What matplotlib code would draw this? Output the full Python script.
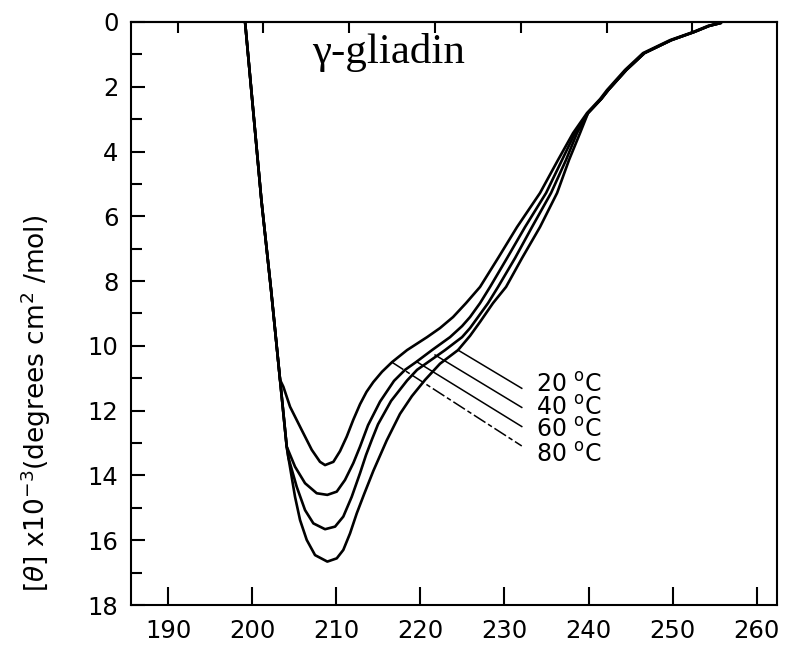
import matplotlib
matplotlib.use('Agg')
import matplotlib.pyplot as plt
from matplotlib.ticker import MultipleLocator

# ---- data (wavelength in nm, -[theta] x 10^-3) ----
wl_20 = [199.16, 201.10, 202.25, 203.32, 203.71, 204.51, 205.90, 207.09, 208.07,
         208.67, 209.66, 210.45, 211.25, 212.03, 212.83, 213.60, 214.40, 215.44,
         216.64, 218.42, 220.80, 222.34, 223.89, 225.43, 227.10, 229.24, 231.50,
         234.23, 236.37, 238.16, 239.82, 241.37, 242.20, 244.34, 246.48, 249.69,
         252.43, 254.21, 255.63]
th_20 = [0.00, 5.50, 8.27, 11.05, 11.26, 11.88, 12.60, 13.21, 13.58,
         13.68, 13.58, 13.25, 12.80, 12.28, 11.80, 11.42, 11.12, 10.80,
         10.50, 10.13, 9.73, 9.45, 9.11, 8.68, 8.18, 7.29, 6.33,
         5.28, 4.26, 3.43, 2.81, 2.38, 2.10, 1.48, 0.96, 0.56,
         0.31, 0.12, 0.03]

wl_40 = [199.16, 201.10, 202.25, 203.32, 204.11, 205.10, 206.29, 207.68, 208.94,
         210.06, 211.04, 212.03, 212.83, 213.78, 215.21, 216.87, 218.18, 219.49,
         221.39, 223.53, 224.96, 225.91, 227.10, 228.29, 230.31, 232.45, 234.95,
         236.85, 238.39, 239.94, 241.50, 242.35, 244.50, 246.65, 249.85, 252.55,
         254.35, 255.75]
th_40 = [0.00, 5.50, 8.27, 11.05, 13.11, 13.73, 14.24, 14.55, 14.60,
         14.50, 14.14, 13.62, 13.11, 12.45, 11.72, 11.08, 10.74, 10.50,
         10.13, 9.73, 9.39, 9.11, 8.68, 8.18, 7.29, 6.33, 5.28,
         4.26, 3.43, 2.81, 2.38, 2.10, 1.48, 0.96, 0.56, 0.31,
         0.12, 0.03]

wl_60 = [199.16, 201.10, 202.25, 203.32, 204.11, 204.32, 205.30, 206.29, 207.28,
         208.67, 209.86, 210.84, 211.84, 212.83, 213.54, 214.26, 214.97, 216.52,
         218.42, 219.61, 220.92, 222.94, 224.96, 225.91, 226.86, 228.05, 229.24,
         231.26, 233.28, 235.54, 237.32, 238.63, 239.94, 241.50, 242.35, 244.50,
         246.65, 249.85, 252.55, 254.35, 255.75]
th_60 = [0.00, 5.50, 8.27, 11.05, 13.11, 13.46, 14.35, 15.07, 15.48,
         15.66, 15.58, 15.27, 14.66, 13.93, 13.37, 12.88, 12.42, 11.70,
         11.07, 10.74, 10.50, 10.13, 9.73, 9.45, 9.11, 8.68, 8.18,
         7.29, 6.33, 5.28, 4.26, 3.43, 2.81, 2.38, 2.10, 1.48,
         0.96, 0.56, 0.31, 0.12, 0.03]

wl_80 = [199.16, 201.10, 202.25, 203.32, 204.11, 204.32, 205.10, 205.70, 206.49,
         207.48, 208.94, 210.06, 210.84, 211.64, 212.44, 213.31, 214.41, 216.00,
         217.58, 219.00, 220.56, 222.34, 224.48, 225.91, 227.10, 228.64, 230.19,
         232.09, 234.23, 236.26, 237.68, 238.99, 239.94, 241.50, 242.35, 244.50,
         246.65, 249.85, 252.55, 254.35, 255.75]
th_80 = [0.00, 5.50, 8.27, 11.05, 13.11, 13.46, 14.66, 15.38, 15.99,
         16.46, 16.66, 16.56, 16.30, 15.79, 15.17, 14.58, 13.86, 12.92,
         12.10, 11.55, 11.05, 10.55, 10.13, 9.69, 9.26, 8.68, 8.18,
         7.29, 6.33, 5.28, 4.26, 3.43, 2.81, 2.38, 2.10, 1.48,
         0.96, 0.56, 0.31, 0.12, 0.03]

temps = ['20', '40', '60', '80']
leader_start_wl = [224.48, 221.75, 219.57, 216.60]
leader_start_th = [10.13, 10.28, 10.49, 10.50]
leader_end_wl = [232.06, 232.06, 232.06, 232.06]
leader_end_th = [11.31, 11.90, 12.49, 13.09]
label_wl = 233.76
label_th = [11.21, 11.92, 12.60, 13.37]

x_ticks = [190, 200, 210, 220, 230, 240, 250, 260]
top_ticks = [191.2, 201.3, 211.5, 221.7, 232.0, 242.2, 252.3]
y_ticks = [0, 2, 4, 6, 8, 10, 12, 14, 16, 18]
title = 'γ-gliadin'
ylabel = r'[$\theta$] x10$^{-3}$(degrees cm$^{2}$ /mol)'

# ---- figure ----
fig = plt.figure(figsize=(7.87, 6.62), dpi=100)
ax = fig.add_axes([0.1665, 0.0861, 0.8208, 0.8807])
ax.set_xlim(185.6, 262.41)
ax.set_ylim(18, 0)

for wl, th in [(wl_20, th_20), (wl_40, th_40), (wl_60, th_60), (wl_80, th_80)]:
    ax.plot(wl, th, color='black', lw=1.9, solid_joinstyle='round', solid_capstyle='round')

for i in range(4):
    ls = '-' if i < 3 else (0, (9, 2, 3, 2))
    ax.plot([leader_start_wl[i], leader_end_wl[i]], [leader_start_th[i], leader_end_th[i]],
            color='black', lw=1.1, ls=ls)
    ax.text(label_wl, label_th[i], temps[i] + r' $^{\mathrm{o}}$C', fontsize=17,
            ha='left', va='center')

ax.text(216.16, 0.93, title, family='Liberation Serif', fontsize=31,
        ha='center', va='center')

for s in ax.spines.values():
    s.set_linewidth(1.5)

ax.set_xticks(x_ticks)
ax.set_yticks(y_ticks)
ax.yaxis.set_minor_locator(MultipleLocator(1))
ax.tick_params(axis='x', which='major', direction='in', length=13, width=1.5,
               labelsize=17.5, pad=10, top=False)
ax.tick_params(axis='y', which='major', direction='in', length=10, width=1.5,
               labelsize=17.5, pad=9, right=False)
ax.tick_params(axis='y', which='minor', direction='in', length=7.7, width=1.5, right=False)

sec = ax.secondary_xaxis('top')
sec.set_xticks(top_ticks)
sec.set_xticklabels([])
sec.tick_params(direction='in', length=7.6, width=1.5)
sec.spines['top'].set_linewidth(1.5)

fig.text(0.045, 0.39, ylabel, rotation=90, fontsize=19, ha='center', va='center')

fig.savefig('out.png', dpi=100)
